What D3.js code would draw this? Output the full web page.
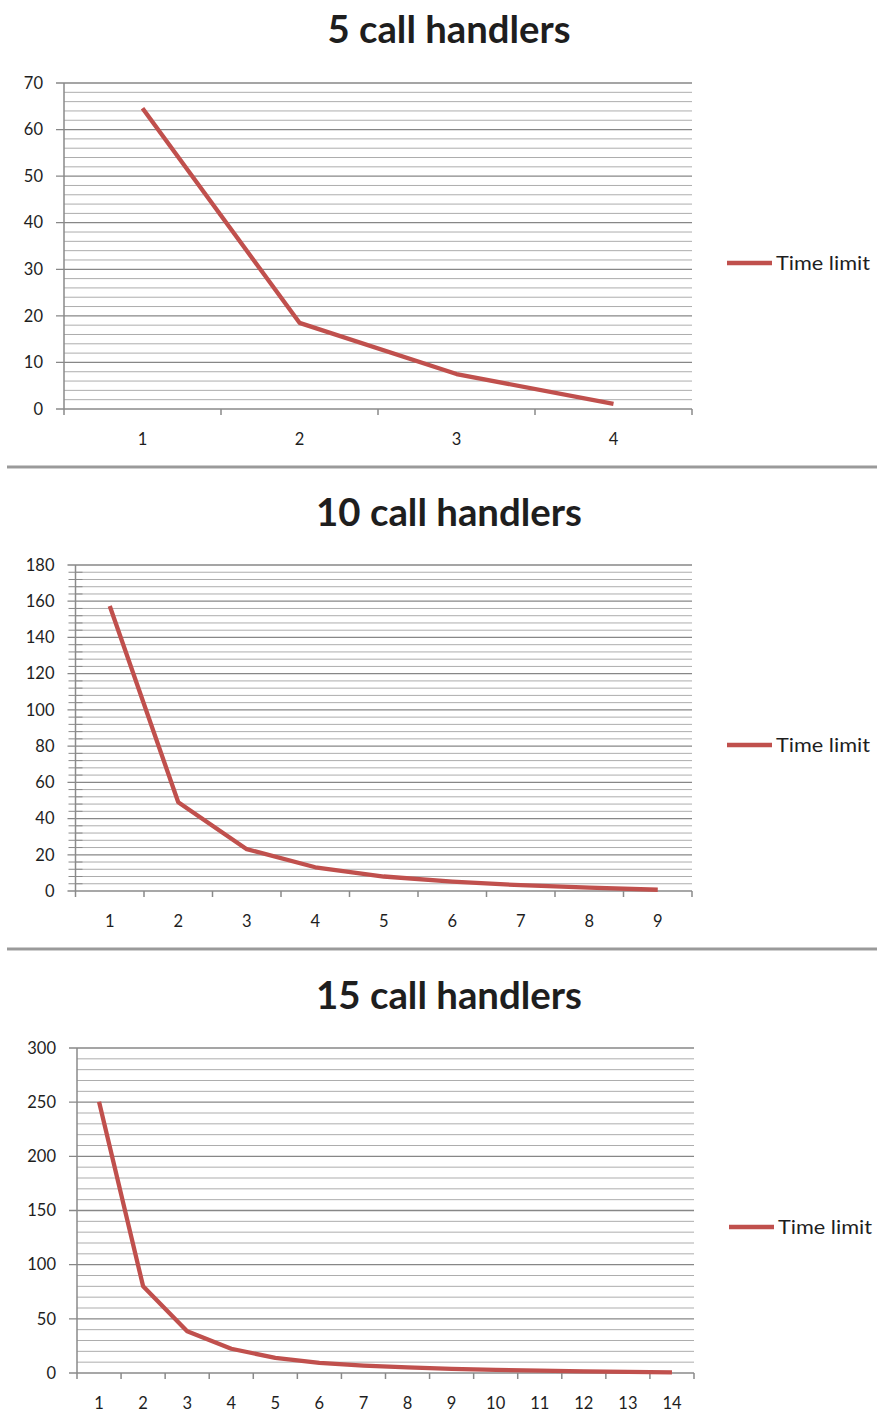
<!DOCTYPE html>
<html>
<head>
<meta charset="utf-8">
<script src="https://cdn.jsdelivr.net/npm/d3@7"></script>
<style>
  html, body { margin: 0; padding: 0; background: #fff; }
  svg { display: block; }
  text { font-family: Lato, "Open Sans", "DejaVu Sans", sans-serif; fill: #1e1e1e; }
</style>
</head>
<body>
<svg id="chart" width="877" height="1414"></svg>
<script>
// Time limit by step, for three staffing levels
const titles = ["5 call handlers", "10 call handlers", "15 call handlers"];
const handlers5 = [64.6, 18.5, 7.5, 1.1];
const handlers10 = [157.4, 49, 23.1, 13.1, 8, 5.2, 3.2, 1.9, 0.7];
const handlers15 = [250.4, 80, 38.5, 22.4, 14, 9.4, 6.8, 5.1, 3.8, 2.8, 2.1, 1.5, 1.0, 0.5];
const yMax = [70, 180, 300];
const yMajorStep = [10, 20, 50];
const yMinorStep = [2, 4, 10];
const seriesName = "Time limit";

const series = [handlers5, handlers10, handlers15];

// panel geometry
const panels = [
  { left: 64, right: 692, top: 83, bottom: 409, titleY: 43, titleW: 243, legendY: 263, legendX: 727, minorCross: false },
  { left: 75.5, right: 692, top: 565, bottom: 891, titleY: 526, titleW: 266, legendY: 745, legendX: 727, minorCross: true },
  { left: 77, right: 694, top: 1048, bottom: 1373, titleY: 1009, titleW: 266, legendY: 1227, legendX: 729, minorCross: false }
];
const separators = [467, 949];

const RED = "#c0504d";
const svg = d3.select("#chart");

separators.forEach(y => {
  svg.append("line").attr("x1", 7).attr("x2", 877).attr("y1", y).attr("y2", y)
    .attr("stroke", "#9a9a9a").attr("stroke-width", 3);
  svg.append("line").attr("x1", 7).attr("x2", 877).attr("y1", y + 1.5).attr("y2", y + 1.5)
    .attr("stroke", "#cfcfcf").attr("stroke-width", 1);
});

panels.forEach((p, i) => {
  const data = series[i];
  const cats = data.map((d, k) => String(k + 1));
  const g = svg.append("g");

  const x = d3.scaleBand().domain(cats).range([p.left, p.right]);
  const y = d3.scaleLinear().domain([0, yMax[i]]).range([p.bottom, p.top]);

  const majors = d3.range(0, yMax[i] + 1e-9, yMajorStep[i]);
  const minors = d3.range(0, yMax[i] + 1e-9, yMinorStep[i]).filter(v => Math.abs(v / yMajorStep[i] - Math.round(v / yMajorStep[i])) > 1e-6);

  // minor gridlines
  g.selectAll(".minor").data(minors).join("line")
    .attr("x1", p.left).attr("x2", p.right)
    .attr("y1", d => y(d)).attr("y2", d => y(d))
    .attr("stroke", "#adadad").attr("stroke-width", 1);
  if (p.minorCross) {
    g.selectAll(".minortick").data(minors).join("line")
      .attr("x1", p.left - 7).attr("x2", p.left + 7)
      .attr("y1", d => y(d)).attr("y2", d => y(d))
      .attr("stroke", "#8a8a8a").attr("stroke-width", 1);
  }
  // major gridlines with outer ticks
  g.selectAll(".major").data(majors.filter(v => v > 0)).join("line")
    .attr("x1", p.left - 8).attr("x2", p.right)
    .attr("y1", d => y(d)).attr("y2", d => y(d))
    .attr("stroke", "#878787").attr("stroke-width", 1.3);

  // y axis labels
  const yAxis = d3.axisLeft(y).tickValues(majors).tickSize(0).tickPadding(21).tickFormat(d3.format("d"));
  const ya = g.append("g").attr("transform", `translate(${p.left},0)`).call(yAxis);
  ya.select(".domain").remove();
  ya.selectAll("text").style("font-size", "16.5px").attr("fill", "#1e1e1e").style("font-family", "Lato, 'Open Sans', sans-serif");

  // y axis line
  g.append("line").attr("x1", p.left).attr("x2", p.left).attr("y1", p.top).attr("y2", p.bottom)
    .attr("stroke", "#8a8a8a").attr("stroke-width", 1.5);
  // x axis line and zero tick
  g.append("line").attr("x1", p.left - 8).attr("x2", p.right).attr("y1", p.bottom).attr("y2", p.bottom)
    .attr("stroke", "#8a8a8a").attr("stroke-width", 1.5);

  // x tick marks at category boundaries
  const bounds = cats.map(c => x(c)).concat([p.right]);
  g.selectAll(".xtick").data(bounds).join("line")
    .attr("x1", d => d).attr("x2", d => d)
    .attr("y1", p.bottom).attr("y2", p.bottom + 6)
    .attr("stroke", "#8a8a8a").attr("stroke-width", 1.5);

  // x labels
  g.selectAll(".xlab").data(cats).join("text")
    .attr("x", d => x(d) + x.bandwidth() / 2)
    .attr("y", p.bottom + 36)
    .attr("text-anchor", "middle")
    .style("font-size", "16.5px")
    .text(d => d);

  // series line
  const line = d3.line().x((d, k) => x(cats[k]) + x.bandwidth() / 2).y(d => y(d));
  g.append("path").datum(data).attr("d", line)
    .attr("fill", "none").attr("stroke", RED).attr("stroke-width", 4.3)
    .attr("stroke-linejoin", "round");

  // title, sized to its span
  const t = g.append("text").attr("x", 449).attr("y", p.titleY).attr("text-anchor", "middle")
    .style("font-size", "32px").style("font-weight", "700").attr("fill", "#111").text(titles[i]);
  const w = t.node().getComputedTextLength();
  t.style("font-size", (32 * p.titleW / w).toFixed(2) + "px");

  // legend
  g.append("line").attr("x1", p.legendX).attr("x2", p.legendX + 45)
    .attr("y1", p.legendY).attr("y2", p.legendY)
    .attr("stroke", RED).attr("stroke-width", 4.3);
  g.append("text").attr("x", p.legendX + 49).attr("y", p.legendY + 6.5)
    .style("font-size", "19px")
    .attr("textLength", 94).attr("lengthAdjust", "spacingAndGlyphs")
    .text(seriesName);
});
</script>
</body>
</html>
